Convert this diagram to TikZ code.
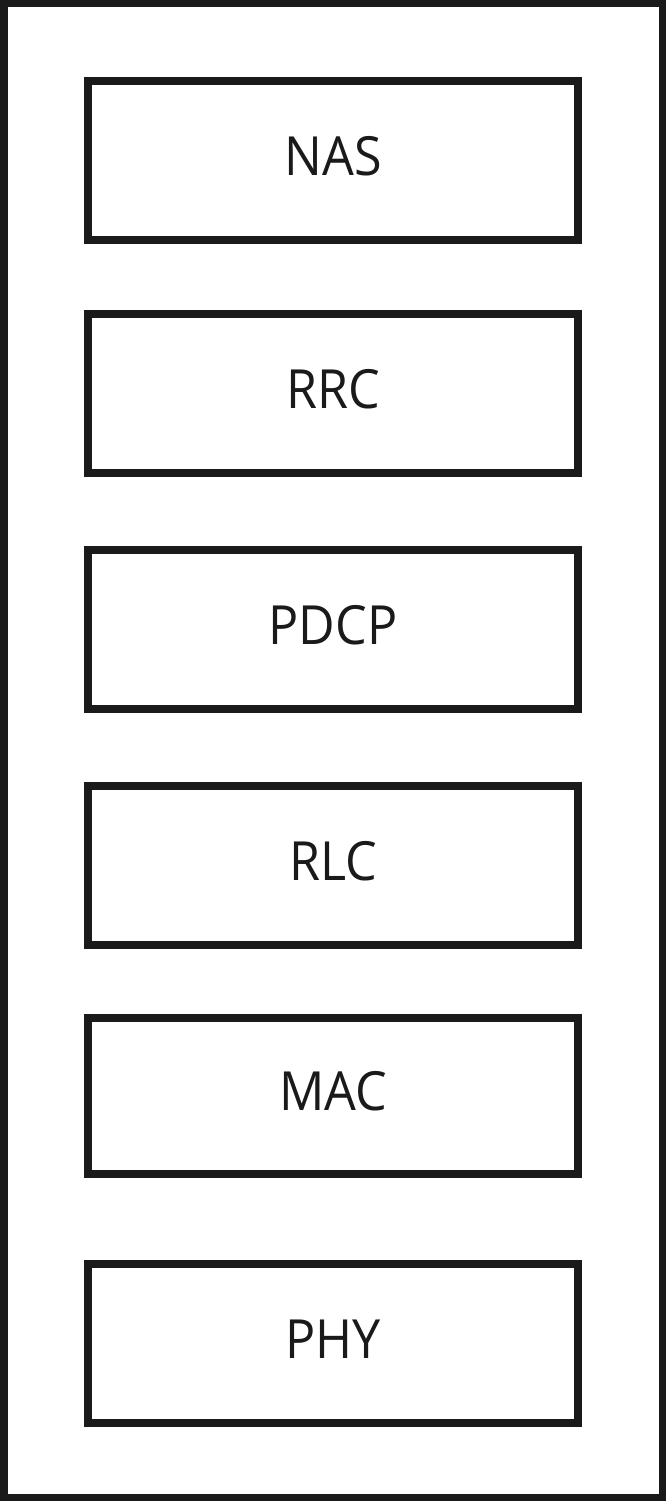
\documentclass[tikz,border=0pt]{standalone}
\usepackage{fontspec}
\setmainfont{Open Sans}[FakeStretch=0.93]
\definecolor{ink}{HTML}{1A1A1A}
\begin{document}
\begin{tikzpicture}[x=1pt,y=-1pt,
  layerbox/.style={draw=ink,line width=8pt,fill=white},
  layertext/.style={anchor=base,inner sep=0pt,text=ink,font=\fontsize{54}{58}\selectfont}]
\useasboundingbox (0,0) rectangle (666,1501);
\fill[white] (0,0) rectangle (666,1501);
\draw[draw=ink,line width=7.5pt] (3.75,3.75) rectangle (662.25,1497.25);
\foreach \nm/\top/\bot in {NAS/81/240,RRC/314/473,PDCP/550/709,RLC/786/945,MAC/1018/1174,PHY/1264/1423}{
  \draw[layerbox] (88,\top) rectangle (578,\bot);
  \node[layertext] (\nm) at (333,{(\top+\bot)/2+14.5}) {\nm};
}
\end{tikzpicture}
\end{document}
